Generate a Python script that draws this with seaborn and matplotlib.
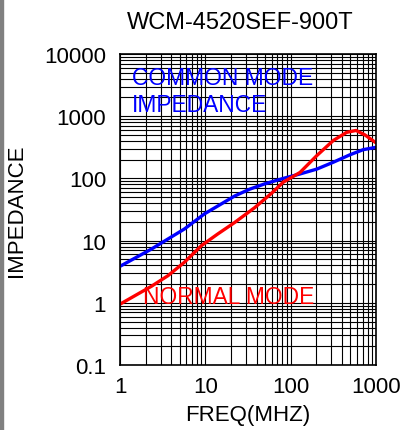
import matplotlib
matplotlib.use("Agg")
import matplotlib.pyplot as plt
import matplotlib.ticker as mticker
import numpy as np
import pandas as pd
import seaborn as sns

# values
cm_freq = [1, 2.33, 5.7, 9.8, 14, 22, 33, 50, 82, 129, 202, 316, 496, 710, 1000]
cm_imp = [3.86, 7.3, 15.4, 27, 36, 52, 67, 82, 100, 118, 141, 182, 240, 290, 316]
nm_freq = [1, 2.33, 3.65, 5.7, 9, 14, 22, 38, 60, 82, 129, 202, 316, 453, 583, 742, 1000]
nm_imp = [0.95, 1.84, 2.73, 4.5, 8.3, 12.8, 19.5, 34, 58, 87, 125, 232, 407, 550, 590, 500, 373]

x_ticks = [1, 10, 100, 1000]
x_labels = ["1", "10", "100", "1000"]
y_ticks = [0.1, 1, 10, 100, 1000, 10000]
y_labels = ["0.1", "1", "10", "100", "1000", "10000"]

df = pd.concat([
    pd.DataFrame({"freq": cm_freq, "imp": cm_imp, "mode": "common"}),
    pd.DataFrame({"freq": nm_freq, "imp": nm_imp, "mode": "normal"}),
])

sns.set_style("white")
plt.rcParams["font.family"] = ["Liberation Sans", "DejaVu Sans"]
plt.rcParams.update({"text.color": "black", "axes.labelcolor": "black",
                     "xtick.color": "black", "ytick.color": "black"})

fig = plt.figure(figsize=(4.01, 4.31), dpi=100)
ax = fig.add_axes([120 / 401, 1 - 366 / 431, 256 / 401, 311 / 431])

sns.lineplot(data=df, x="freq", y="imp", hue="mode",
             palette={"common": "#0000ff", "normal": "#ff0000"},
             linewidth=2.4, legend=False, ax=ax, sort=False, estimator=None,
             solid_joinstyle="round", solid_capstyle="round")

ax.set_xscale("log")
ax.set_yscale("log")
ax.set_xlim(1, 1000)
ax.set_ylim(0.1, 10000)
ax.xaxis.set_major_locator(mticker.FixedLocator(x_ticks))
ax.set_xticklabels(x_labels)
ax.yaxis.set_major_locator(mticker.FixedLocator(y_ticks))
ax.set_yticklabels(y_labels)
ax.xaxis.set_minor_locator(mticker.LogLocator(base=10, subs=np.arange(2, 10)))
ax.yaxis.set_minor_locator(mticker.LogLocator(base=10, subs=np.arange(2, 10), numticks=20))
ax.xaxis.set_minor_formatter(mticker.NullFormatter())
ax.yaxis.set_minor_formatter(mticker.NullFormatter())
ax.grid(which="both", color="black", linewidth=0.8)
ax.set_axisbelow(True)
ax.tick_params(which="both", length=0, labelsize=16, labelcolor="black")
ax.tick_params(axis="y", pad=10)
ax.tick_params(axis="x", pad=8)
for s in ax.spines.values():
    s.set_color("black")
    s.set_linewidth(1.2)

ax.set_xlabel("FREQ(MHZ)", fontsize=16, labelpad=5, color="black")
ax.set_ylabel("IMPEDANCE", fontsize=16, labelpad=12, color="black")

ax.text(0.047, 0.904, "COMMON MODE", color="#0000ff", fontsize=16.4,
        transform=ax.transAxes, va="baseline")
ax.text(0.047, 0.817, "IMPEDANCE", color="#0000ff", fontsize=16.4,
        transform=ax.transAxes, va="baseline")
ax.text(0.09, 0.2, "NORMAL MODE", color="#ff0000", fontsize=16.4,
        transform=ax.transAxes, va="baseline")

fig.text(240 / 401, 1 - 23 / 431, "WCM-4520SEF-900T", fontsize=17,
         ha="center", va="center", color="black")

fig.patches.append(plt.Rectangle((0, 0), 3 / 401, 1, transform=fig.transFigure,
                                 color="#808080", zorder=0))

fig.savefig("out.png", dpi=100)
